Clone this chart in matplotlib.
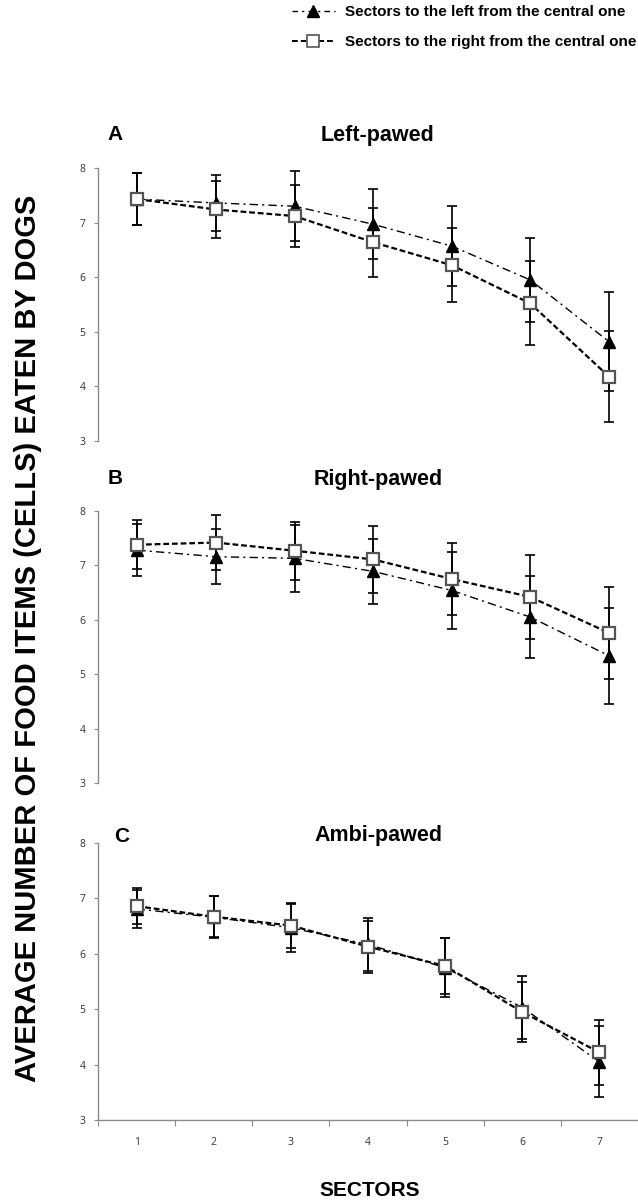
import matplotlib
matplotlib.use("Agg")
import matplotlib.pyplot as plt
from matplotlib.lines import Line2D
import numpy as np

# ---------------- data ----------------
sectors = [1, 2, 3, 4, 5, 6, 7]
sector_labels = ["1", "2", "3", "4", "5", "6", "7"]
panel_letters = ["A", "B", "C"]
panel_titles = ["Left-pawed", "Right-pawed", "Ambi-pawed"]
legend_labels = ["Sectors to the left from the central one",
                 "Sectors to the right from the central one"]

# Left-pawed
A_left = [7.43, 7.36, 7.30, 6.97, 6.57, 5.95, 4.82]
A_left_err = [0.47, 0.52, 0.64, 0.64, 0.73, 0.77, 0.91]
A_right = [7.43, 7.24, 7.12, 6.64, 6.22, 5.52, 4.18]
A_right_err = [0.47, 0.53, 0.56, 0.63, 0.68, 0.77, 0.83]
# Right-pawed
B_left = [7.28, 7.16, 7.13, 6.89, 6.54, 6.05, 5.34]
B_left_err = [0.48, 0.50, 0.62, 0.60, 0.70, 0.76, 0.88]
B_right = [7.38, 7.42, 7.27, 7.11, 6.75, 6.42, 5.76]
B_right_err = [0.45, 0.50, 0.53, 0.62, 0.66, 0.77, 0.85]
# Ambi-pawed
C_left = [6.81, 6.66, 6.47, 6.17, 5.75, 5.03, 4.05]
C_left_err = [0.34, 0.38, 0.43, 0.48, 0.53, 0.57, 0.64]
C_right = [6.86, 6.67, 6.51, 6.13, 5.78, 4.95, 4.22]
C_right_err = [0.33, 0.37, 0.40, 0.47, 0.50, 0.55, 0.59]

left_series = [A_left, B_left, C_left]
left_errs = [A_left_err, B_left_err, C_left_err]
right_series = [A_right, B_right, C_right]
right_errs = [A_right_err, B_right_err, C_right_err]

# ---------------- figure ----------------
W, H = 638, 1203
fig = plt.figure(figsize=(W / 100, H / 100), dpi=100)
BOLD = ["Liberation Sans", "DejaVu Sans"]
TICKF = ["Open Sans", "DejaVu Sans"]

ax_left_px = 98
# (top px, bottom px)
panel_px = [(168, 441), (511, 783), (843, 1120)]
title_y = [135, 479, 836]
letter_x = [115, 115, 122]

gray = "#8a8a8a"
tri_style = dict(color="black", lw=1.0, dashes=(6, 3, 1.5, 3), marker="^",
                 ms=9, mfc="black", mec="black")
sq_style = dict(color="black", lw=1.6, dashes=(2.6, 1.3), marker="s",
                ms=9, mfc="white", mec="#555555", mew=1.6)

x = np.array(sectors)
for i in range(3):
    top, bot = panel_px[i]
    ax = fig.add_axes([ax_left_px / W, 1 - bot / H, (W - ax_left_px) / W, (bot - top) / H])
    ax.errorbar(x, left_series[i], yerr=left_errs[i], fmt="none", ecolor="black",
                elinewidth=1.2, capsize=3.5, capthick=1.2, zorder=2)
    ax.errorbar(x, right_series[i], yerr=right_errs[i], fmt="none", ecolor="black",
                elinewidth=1.2, capsize=3.5, capthick=1.2, zorder=2)
    ax.plot(x, left_series[i], zorder=3, **tri_style)
    ax.plot(x, right_series[i], zorder=4, **sq_style)
    ax.set_ylim(3, 8)
    ax.set_xlim(0.5, 0.5 + (W - ax_left_px) / 78.6)
    ax.set_yticks([3, 4, 5, 6, 7, 8])
    for s in ["top", "right"]:
        ax.spines[s].set_visible(False)
    ax.spines["left"].set_color(gray)
    ax.spines["left"].set_linewidth(1.0)
    ax.tick_params(axis="y", direction="out", length=3, width=0.8, color=gray,
                   labelsize=7.5, labelcolor="#333333", pad=6)
    for lab in ax.get_yticklabels():
        lab.set_family(TICKF)
    if i < 2:
        ax.spines["bottom"].set_visible(False)
        ax.set_xticks([])
    else:
        ax.spines["bottom"].set_color(gray)
        ax.spines["bottom"].set_linewidth(1.0)
        ax.set_xticks(np.arange(0.5, 8.0, 1.0))
        ax.set_xticklabels([])
        ax.tick_params(axis="x", which="major", direction="out", length=4,
                       width=0.8, color=gray)
        ax.set_xticks(x, minor=True)
        ax.set_xticklabels(sector_labels, minor=True)
        ax.tick_params(axis="x", which="minor", length=0, labelsize=7.5,
                       labelcolor="#333333", pad=12)
        for lab in ax.get_xticklabels(minor=True):
            lab.set_family(TICKF)
    fig.text(letter_x[i] / W, 1 - title_y[i] / H, panel_letters[i], family=BOLD,
             fontweight="bold", fontsize=15, ha="center", va="center")
    fig.text(378 / W, 1 - title_y[i] / H, panel_titles[i], family=BOLD,
             fontweight="bold", fontsize=15.5, ha="center", va="center")

# y label and x label
fig.text(28 / W, 1 - 638 / H, "AVERAGE NUMBER OF FOOD ITEMS (CELLS) EATEN BY DOGS",
         family=BOLD, fontweight="bold", fontsize=21, rotation=90,
         ha="center", va="center")
fig.text(370 / W, 1 - 1190 / H, "SECTORS", family=BOLD, fontweight="bold",
         fontsize=15, ha="center", va="center")

# legend
handles = [Line2D([0], [0], color="black", lw=1.0, dashes=(4, 3, 1.5, 3), marker="^",
                  ms=8, mfc="black", mec="black"),
           Line2D([0], [0], color="black", lw=1.4, dashes=(3, 1.5), marker="s",
                  ms=8, mfc="white", mec="#555555", mew=1.2)]
fig.legend(handles, legend_labels, loc="upper left",
           bbox_to_anchor=(292 / W, 1 - 5 / H), frameon=False,
           prop={"family": BOLD, "weight": "bold", "size": 11},
           handlelength=2.8, handletextpad=0.7, labelspacing=1.05,
           borderpad=0, borderaxespad=0, numpoints=1)

fig.savefig("out.png", dpi=100)
